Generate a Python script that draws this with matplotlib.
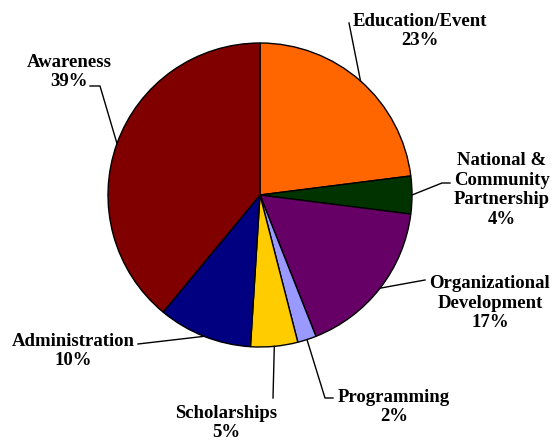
import numpy as np
import matplotlib
matplotlib.use("Agg")
import matplotlib.pyplot as plt

categories = ["Education/Event", "National &\nCommunity\nPartnership", "Organizational\nDevelopment",
              "Programming", "Scholarships", "Administration", "Awareness"]
values = [23, 4, 17, 2, 5, 10, 39]
colors = ["#FF6600", "#003300", "#660066", "#9999FF", "#FFCC00", "#000080", "#800000"]

W, H = 557, 442
CX, CY, R = 260, 195, 152

def px(x, y):
    return ((x - CX) / R, (CY - y) / R)

fig = plt.figure(figsize=(W / 100, H / 100), dpi=100)
ax = fig.add_axes([0, 0, 1, 1])
ax.pie(values, colors=colors, startangle=90, counterclock=False, radius=1,
       wedgeprops=dict(edgecolor="black", linewidth=1.0))
ax.set_xlim(px(0, 0)[0], px(W, 0)[0])
ax.set_ylim(px(0, H)[1], px(0, 0)[1])
ax.set_aspect("equal")
ax.axis("off")

# label layout (pixel coordinates): text centre, leader-line points after the wedge edge
label_pos = [(420, 31), (502, 190), (490, 303), (394, 407), (226, 423), (73, 351), (69, 72)]
leaders = [[(349, 23)],
           [(442, 183), (450, 183)],
           [(425, 280)],
           [(325, 398), (333, 398)],
           [(273, 398)],
           [(138, 344)],
           [(100, 86), (90, 86)]]

cum = np.cumsum([0] + values[:-1])
total = sum(values)
for i, (cat, v) in enumerate(zip(categories, values)):
    mid = cum[i] + v / 2
    theta = np.deg2rad(90 - 360 * mid / total)
    pts = [(np.cos(theta), np.sin(theta))] + [px(*p) for p in leaders[i]]
    xs, ys = zip(*pts)
    ax.plot(xs, ys, color="black", linewidth=1.0)
    tx, ty = px(*label_pos[i])
    ax.text(tx, ty, f"{cat}\n{v}%", ha="center", va="center", fontsize=13.5,
            fontweight="bold", family="Liberation Serif", linespacing=1.22)

fig.savefig("out.png", dpi=100)
